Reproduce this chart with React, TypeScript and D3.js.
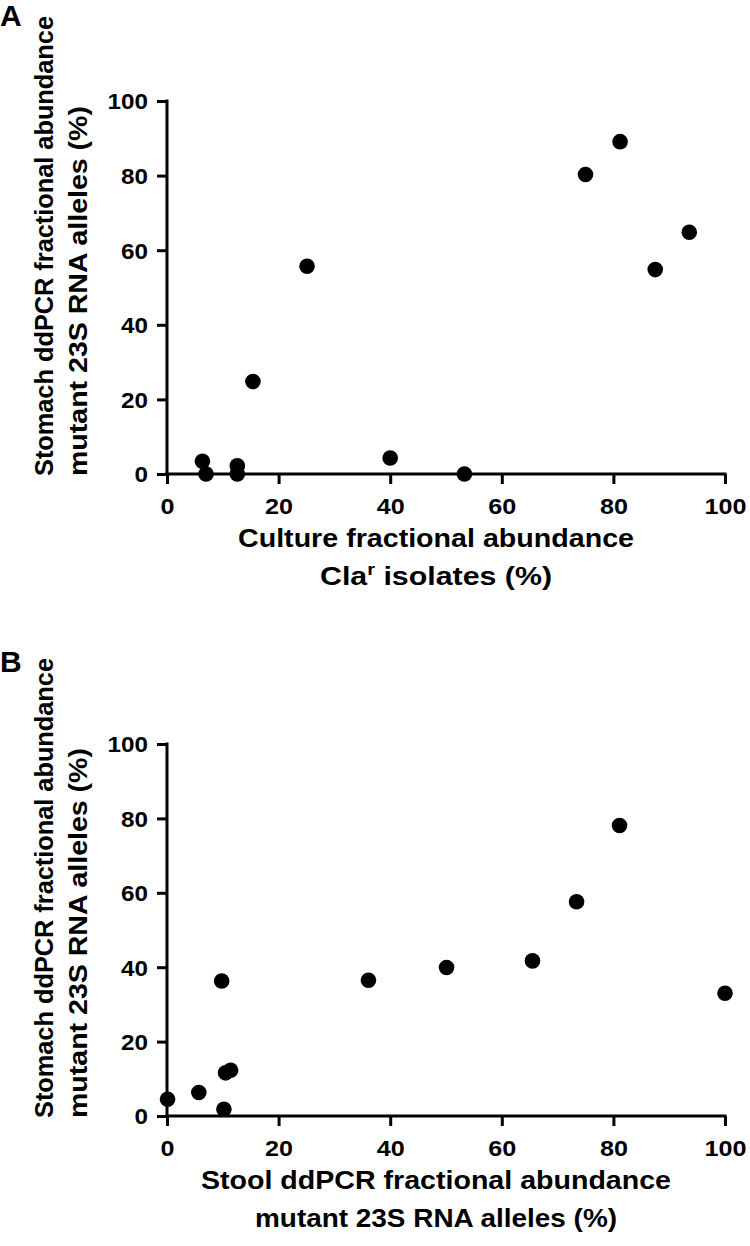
import React, { useRef, useEffect } from "react";
import * as d3 from "d3";

// Panel A: culture vs stomach ddPCR
const cultureAbundance = [6.35, 7.0, 12.6, 12.6, 15.4, 25.1, 40.0, 53.3, 75.0, 81.2, 87.5, 93.6];
const stomachAbundanceA = [3.4, 0, 2.2, 0, 24.8, 55.7, 4.3, 0, 80.3, 89.1, 54.8, 64.8];

// Panel B: stool ddPCR vs stomach ddPCR
const stoolAbundance = [0.1, 5.7, 10.2, 10.5, 11.4, 9.8, 36.1, 50.1, 65.5, 73.4, 81.1, 100];
const stomachAbundanceB = [4.5, 6.3, 1.8, 11.6, 12.3, 36.3, 36.5, 39.9, 41.7, 57.6, 78.1, 33.0];

const axisTicks = [0, 20, 40, 60, 80, 100];

const yTitleLines = ["Stomach ddPCR fractional abundance", "mutant 23S RNA alleles (%)"];
const xTitleB = ["Stool ddPCR fractional abundance", "mutant 23S RNA alleles (%)"];

const FONT = '"Liberation Sans", Arial, Helvetica, sans-serif';
const W = 750;
const H = 1246;

type PanelOpts = {
  letter: string;
  letterY: number;
  top: number; // pixel y of 100
  bottom: number; // pixel y of 0
  xs: number[];
  ys: number[];
  xTitle: (g: d3.Selection<SVGGElement, unknown, null, undefined>, y1: number, y2: number) => void;
};

function drawPanel(svg: d3.Selection<SVGSVGElement, unknown, null, undefined>, o: PanelOpts) {
  const x = d3.scaleLinear().domain([0, 100]).range([167, 725]);
  const y = d3.scaleLinear().domain([0, 100]).range([o.bottom, o.top]);
  const g = svg.append("g");

  // panel letter
  g.append("text")
    .attr("x", 0)
    .attr("y", o.letterY)
    .attr("font-family", FONT)
    .attr("font-weight", 700)
    .attr("font-size", 30)
    .text(o.letter);

  // x axis
  const xAxis = g.append("g").attr("transform", `translate(0,${o.bottom})`)
    .call(d3.axisBottom(x).tickValues(axisTicks).tickSize(10).tickSizeOuter(0).tickFormat(d3.format("d")));
  xAxis.select(".domain").attr("stroke", "#000").attr("stroke-width", 3)
    .attr("d", `M${x(0) - 1.5},0H${x(100) + 1.5}`);
  xAxis.selectAll(".tick line").attr("stroke", "#000").attr("stroke-width", 3);
  xAxis.selectAll(".tick text")
    .attr("font-family", FONT)
    .attr("font-weight", 700)
    .attr("font-size", 22)
    .attr("fill", "#000")
    .attr("dy", 0)
    .attr("y", 40)
    .attr("textLength", (d: any) => String(d).length * 14)
    .attr("lengthAdjust", "spacingAndGlyphs");

  // y axis
  const yAxis = g.append("g").attr("transform", `translate(${x(0)},0)`)
    .call(d3.axisLeft(y).tickValues(axisTicks).tickSize(10).tickSizeOuter(0).tickFormat(d3.format("d")));
  yAxis.select(".domain").attr("stroke", "#000").attr("stroke-width", 3)
    .attr("d", `M0,${y(100) - 1.5}V${y(0) + 1.5}`);
  yAxis.selectAll(".tick line").attr("stroke", "#000").attr("stroke-width", 3);
  yAxis.selectAll(".tick text")
    .attr("font-family", FONT)
    .attr("font-weight", 700)
    .attr("font-size", 22)
    .attr("fill", "#000")
    .attr("x", -19)
    .attr("dy", "0.36em")
    .attr("textLength", (d: any) => String(d).length * 13.5)
    .attr("lengthAdjust", "spacingAndGlyphs");

  // y title (two rotated lines, starting at the bottom of the axis)
  const yLens = [460, 370];
  const yBase = [53, 87];
  yTitleLines.forEach((t, i) => {
    g.append("text")
      .attr("transform", `translate(${yBase[i]},${o.bottom + 2}) rotate(-90)`)
      .attr("text-anchor", "start")
      .attr("font-family", FONT)
      .attr("font-weight", 700)
      .attr("font-size", 25.5)
      .attr("textLength", yLens[i])
      .attr("lengthAdjust", "spacingAndGlyphs")
      .text(t);
  });

  // x title
  o.xTitle(g, o.bottom + 73, o.bottom + 111);

  // points
  g.append("g")
    .selectAll("circle")
    .data(o.xs.map((v, i) => [v, o.ys[i]]))
    .join("circle")
    .attr("cx", (d) => x(d[0]))
    .attr("cy", (d) => y(d[1]))
    .attr("r", 7.8)
    .attr("fill", "#000");
}

export default function App() {
  const svgRef = useRef<SVGSVGElement>(null);

  useEffect(() => {
    const svg = d3.select(svgRef.current as SVGSVGElement);
    svg.selectAll("*").remove();
    const cx = 436;

    drawPanel(svg, {
      letter: "A",
      letterY: 26,
      top: 101,
      bottom: 474,
      xs: cultureAbundance,
      ys: stomachAbundanceA,
      xTitle: (g, y1, y2) => {
        g.append("text")
          .attr("x", cx).attr("y", y1)
          .attr("text-anchor", "middle")
          .attr("font-family", FONT).attr("font-weight", 700).attr("font-size", 26)
          .attr("textLength", 396).attr("lengthAdjust", "spacingAndGlyphs")
          .text("Culture fractional abundance");
        const t2 = g.append("text")
          .attr("x", cx).attr("y", y2)
          .attr("text-anchor", "middle")
          .attr("font-family", FONT).attr("font-weight", 700).attr("font-size", 26)
          .attr("textLength", 232).attr("lengthAdjust", "spacingAndGlyphs");
        t2.append("tspan").text("Cla");
        t2.append("tspan").attr("font-size", 17).attr("dy", -10).text("r");
        t2.append("tspan").attr("dy", 10).text(" isolates (%)");
      },
    });

    drawPanel(svg, {
      letter: "B",
      letterY: 672,
      top: 744,
      bottom: 1116,
      xs: stoolAbundance,
      ys: stomachAbundanceB,
      xTitle: (g, y1, y2) => {
        const lens = [470, 362];
        [y1, y2].forEach((yy, i) => {
          g.append("text")
            .attr("x", cx).attr("y", yy)
            .attr("text-anchor", "middle")
            .attr("font-family", FONT).attr("font-weight", 700).attr("font-size", 26)
            .attr("textLength", lens[i]).attr("lengthAdjust", "spacingAndGlyphs")
            .text(xTitleB[i]);
        });
      },
    });
  }, []);

  return (
    <svg
      ref={svgRef}
      width={W}
      height={H}
      viewBox={`0 0 ${W} ${H}`}
      style={{ position: "absolute", left: 0, top: 0, background: "#fff", display: "block" }}
    />
  );
}
